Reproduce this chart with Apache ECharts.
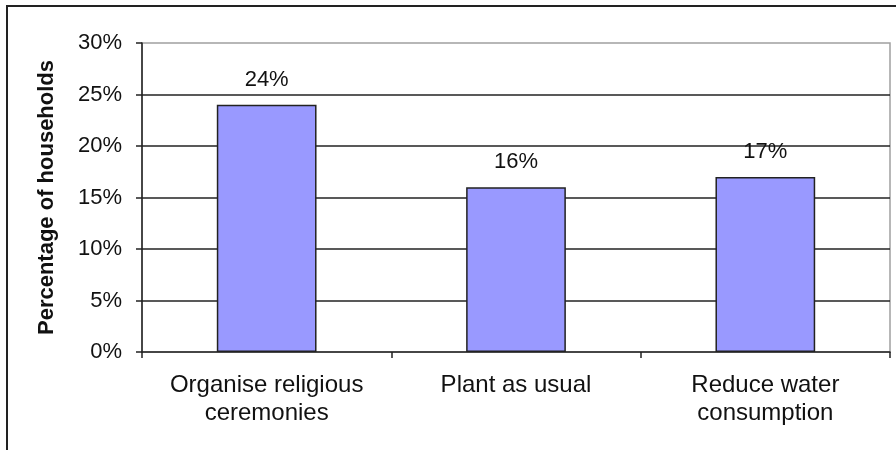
<!DOCTYPE html>
<html>
<head>
<meta charset="utf-8">
<script src="https://cdn.jsdelivr.net/npm/echarts@6/dist/echarts.min.js"></script>
<style>
html,body{margin:0;padding:0;background:#fff;}
#chart{width:896px;height:450px;}
</style>
</head>
<body>
<div id="chart"></div>
<script>
var categories = ['Organise religious\nceremonies', 'Plant as usual', 'Reduce water\nconsumption'];
var values = [24, 16, 17];
var yTicks = [0, 5, 10, 15, 20, 25, 30];
var yTitle = 'Percentage of households';

var chart = echarts.init(document.getElementById('chart'));
var font = '"Liberation Sans", Arial, sans-serif';
chart.setOption({
  animation: false,
  backgroundColor: '#fff',
  graphic: [{
    type: 'rect',
    shape: {x: 7, y: 6, width: 1000, height: 1000},
    style: {fill: 'none', stroke: '#222', lineWidth: 2},
    silent: true
  }],
  grid: {
    left: 142, right: 6, top: 43, bottom: 98,
    show: true, borderColor: '#a0a0a0', borderWidth: 1.5, backgroundColor: 'transparent'
  },
  xAxis: {
    type: 'category',
    data: categories,
    axisLine: {lineStyle: {color: '#222', width: 1.5}},
    axisTick: {show: true, length: 6, inside: false, lineStyle: {color: '#222', width: 1.5}},
    axisLabel: {
      color: '#111', fontFamily: font, fontSize: 24, lineHeight: 28, margin: 19, interval: 0
    },
    splitLine: {show: false}
  },
  yAxis: {
    type: 'value',
    min: yTicks[0], max: yTicks[yTicks.length - 1], interval: 5,
    name: yTitle,
    nameLocation: 'middle',
    nameGap: 84,
    nameTextStyle: {color: '#111', fontFamily: font, fontSize: 22, fontWeight: 'bold'},
    axisLine: {show: true, lineStyle: {color: '#222', width: 1.5}},
    axisTick: {show: true, length: 6, inside: false, lineStyle: {color: '#222', width: 1.5}},
    axisLabel: {
      color: '#111', fontFamily: font, fontSize: 22, margin: 20,
      formatter: '{value}%'
    },
    splitLine: {show: true, showMaxLine: false, showMinLine: false, lineStyle: {color: '#222', width: 1.5}}
  },
  series: [{
    type: 'bar',
    data: values,
    barWidth: '40%',
    itemStyle: {color: '#9999ff', borderColor: '#222', borderWidth: 1.5},
    label: {
      show: true, position: 'top', distance: 14,
      formatter: '{c}%', color: '#111', fontFamily: font, fontSize: 22
    }
  }]
});
</script>
</body>
</html>
